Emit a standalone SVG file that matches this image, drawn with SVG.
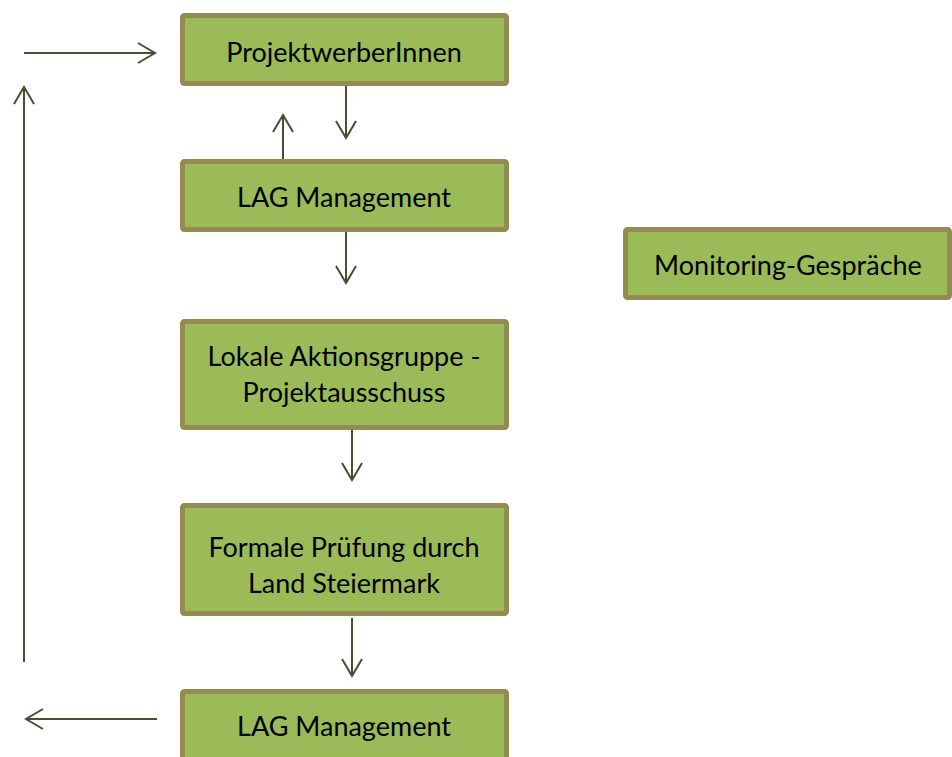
<svg xmlns="http://www.w3.org/2000/svg" width="952" height="757" viewBox="0 0 952 757">
<style>
.box{fill:#9BBB59;stroke:#948A54;stroke-width:5}
.t{font-family:Lato,"Open Sans",sans-serif;font-size:27px;fill:#000;text-anchor:middle}
.c{stroke:#4F4A33;stroke-width:2;fill:none}
</style>
<defs>
<marker id="a" viewBox="0 0 20 22" refX="18" refY="11" markerWidth="20" markerHeight="22" markerUnits="userSpaceOnUse" orient="auto">
<path d="M1,1 L18,11 L1,21" fill="none" stroke="#4F4A33" stroke-width="2"/>
</marker>
</defs>
<rect width="952" height="757" fill="#fff"/>
<g id="connectors">
<line class="c" x1="24" y1="53" x2="155" y2="53" marker-end="url(#a)"/>
<line class="c" x1="24" y1="662" x2="24" y2="87" marker-end="url(#a)"/>
<line class="c" x1="283" y1="159" x2="283" y2="115" marker-end="url(#a)"/>
<line class="c" x1="346" y1="86" x2="346" y2="138" marker-end="url(#a)"/>
<line class="c" x1="346" y1="232" x2="346" y2="283" marker-end="url(#a)"/>
<line class="c" x1="352" y1="430" x2="352" y2="480" marker-end="url(#a)"/>
<line class="c" x1="352" y1="618" x2="352" y2="676" marker-end="url(#a)"/>
<line class="c" x1="157" y1="719" x2="26" y2="719" marker-end="url(#a)"/>
</g>
<g id="n1"><rect class="box" x="182.5" y="15.5" width="324" height="68" rx="2"/><text class="t" x="344" y="62">ProjektwerberInnen</text></g>
<g id="n2"><rect class="box" x="182.5" y="161.5" width="324" height="68" rx="2"/><text class="t" x="344" y="207">LAG Management</text></g>
<g id="n3"><rect class="box" x="182.5" y="321.5" width="324" height="106" rx="2"/><text class="t" x="344" y="366">Lokale Aktionsgruppe -</text><text class="t" x="344" y="402">Projektausschuss</text></g>
<g id="n4"><rect class="box" x="182.5" y="505.5" width="324" height="108" rx="2"/><text class="t" x="344" y="557">Formale Prüfung durch</text><text class="t" x="344" y="593">Land Steiermark</text></g>
<g id="n5"><rect class="box" x="182.5" y="691.5" width="324" height="80" rx="2"/><text class="t" x="344" y="736">LAG Management</text></g>
<g id="n6"><rect class="box" x="625.5" y="229.5" width="324" height="68" rx="2"/><text class="t" x="788" y="275">Monitoring-Gespräche</text></g>
</svg>
